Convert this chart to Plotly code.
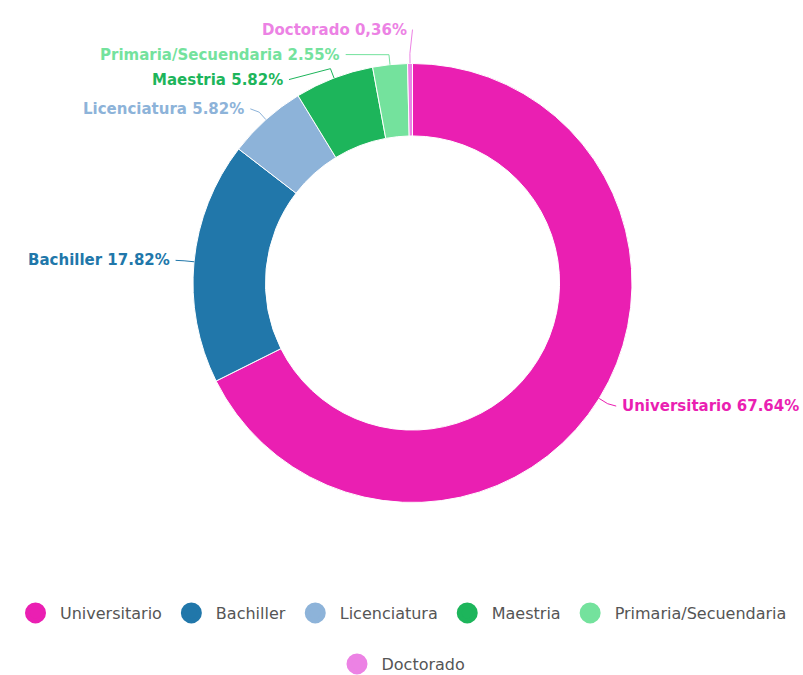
import math
import plotly.graph_objects as go

# ---- data -------------------------------------------------------------
categories = ["Universitario", "Bachiller", "Licenciatura", "Maestria",
              "Primaria/Secuendaria", "Doctorado"]
shares = [67.64, 17.82, 5.82, 5.82, 2.55, 0.36]
decimal_marks = [".", ".", ".", ".", ".", ","]
colors = ["#EA1FB2", "#2177AA", "#8DB3D9", "#1DB55B", "#74E29D", "#EC82E4"]

# ---- geometry (pixels) ------------------------------------------------
W, H = 803, 675
CX, CY, R = 412.5, 283.0, 219.5
HOLE = 0.67
LABEL_R = 238.0      # circle on which labels sit (horizontal placement)
LABEL_RY = 234.0     # radius used for the preferred label height
ELBOW = 10.0         # connector break distance beyond the rim
ROW = 25.0           # minimum vertical spacing of labels
TEXT_GAP = 4.0
FONT = "DejaVu Sans"


def px(x):
    return x / W


def py(y):
    return 1 - y / H


def fmt(name, v, mark):
    num = f"{v:.2f}"
    if mark != ".":
        num = num.replace(".", mark)
    return f"{name} {num}%"


total = sum(shares)
cum = 0.0
info = []
for name, v, mark, col in zip(categories, shares, decimal_marks, colors):
    theta = 2 * math.pi * (cum + v / 2) / total   # clockwise from 12 o'clock
    cum += v
    s, c = math.sin(theta), math.cos(theta)
    info.append(dict(
        name=name, value=v, color=col, text=fmt(name, v, mark),
        edge=(CX + R * s, CY - R * c),
        elbow=(CX + (R + ELBOW) * s, CY - (R + ELBOW) * c),
        target=CY - LABEL_RY * c,
        side=1 if s >= 0 else -1,
    ))


# spread overlapping labels on each side (merge colliding groups)
def distribute(items):
    items = sorted(items, key=lambda d: d["target"])
    groups = []
    for it in items:
        groups.append({"m": [it], "top": it["target"]})
        while len(groups) > 1:
            a, b = groups[-2], groups[-1]
            if a["top"] + len(a["m"]) * ROW <= b["top"]:
                break
            m = a["m"] + b["m"]
            top = sum(d["target"] - k * ROW for k, d in enumerate(m)) / len(m)
            groups[-2:] = [{"m": m, "top": top}]
    for g in groups:
        for k, d in enumerate(g["m"]):
            d["y"] = g["top"] + k * ROW


for side in (1, -1):
    distribute([d for d in info if d["side"] == side])

for d in info:
    dy = d["y"] - CY
    d["x"] = CX + d["side"] * math.sqrt(max(LABEL_R ** 2 - dy ** 2, 0.0))

# ---- figure -----------------------------------------------------------
fig = go.Figure()

fig.add_trace(go.Pie(
    labels=categories,
    values=shares,
    marker=dict(colors=colors, line=dict(color="white", width=1)),
    hole=HOLE,
    sort=False,
    direction="clockwise",
    rotation=0,
    textinfo="none",
    showlegend=False,
    domain=dict(x=[px(CX - R), px(CX + R)], y=[py(CY + R), py(CY - R)]),
))

# legend entries with round swatches
for i, (name, col) in enumerate(zip(categories, colors)):
    fig.add_trace(go.Scatter(
        x=[None], y=[None], mode="markers", name=name,
        marker=dict(symbol="circle", size=16, color=col,
                    line=dict(color=col, width=5)),
        legend="legend" if i < 5 else "legend2",
        hoverinfo="skip",
    ))

shapes = []
annotations = []
for d in info:
    (x0, y0), (x1, y1) = d["edge"], d["elbow"]
    x2, y2 = d["x"], d["y"]
    shapes.append(dict(
        type="path", xref="paper", yref="paper",
        path=f"M {px(x0)},{py(y0)} L {px(x1)},{py(y1)} L {px(x2)},{py(y2)}",
        line=dict(color=d["color"], width=1),
    ))
    annotations.append(dict(
        x=px(x2 + d["side"] * TEXT_GAP), y=py(y2), xref="paper", yref="paper",
        xanchor="left" if d["side"] > 0 else "right", yanchor="middle",
        text=d["text"], showarrow=False,
        font=dict(family=FONT, size=15, color=d["color"], weight="bold"),
    ))

legend_style = dict(
    orientation="h", x=0.5, xanchor="center", yanchor="middle",
    font=dict(family=FONT, size=16, color="#555555"),
    itemwidth=39, bgcolor="rgba(0,0,0,0)",
)

fig.update_layout(
    width=W, height=H,
    margin=dict(l=0, r=0, t=0, b=0, autoexpand=False),
    paper_bgcolor="white", plot_bgcolor="white",
    xaxis=dict(visible=False), yaxis=dict(visible=False),
    shapes=shapes, annotations=annotations,
    showlegend=True,
    legend=dict(legend_style, y=py(613)),
    legend2=dict(legend_style, y=py(664)),
)

fig.write_html("out.html")
